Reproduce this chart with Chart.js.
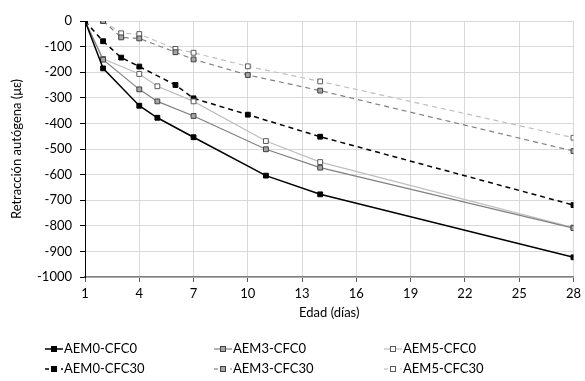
<!DOCTYPE html>
<html>
<head>
<meta charset="utf-8">
<script src="https://cdn.jsdelivr.net/npm/chart.js@4/dist/chart.umd.min.js"></script>
<style>
  html, body { margin: 0; padding: 0; background: #fff; }
  #wrap { width: 585px; height: 381px; }
</style>
</head>
<body>
<div id="wrap"><canvas id="chart" width="585" height="381"></canvas></div>
<script>
// x values (días) and retraction values (με)
const daysCFC0 = [1, 2, 4, 5, 7, 11, 14, 28];
const daysCFC30 = [1, 2, 3, 4, 6, 7, 10, 14, 28];
const daysCFC30b = [2, 3, 4, 6, 7, 10, 14, 28];

const aem0cfc0 = [0, -185, -331, -378, -454, -604, -677, -923];
const aem3cfc0 = [0, -151, -267, -314, -371, -501, -573, -809];
const aem5cfc0 = [0, -148, -207, -255, -314, -469, -551, -807];
const aem0cfc30 = [0, -79, -143, -178, -250, -302, -366, -452, -719];
const aem3cfc30 = [0, -64, -68, -122, -150, -211, -272, -508];
const aem5cfc30 = [0, -48, -51, -109, -124, -177, -236, -456];

const xTicks = [1, 4, 7, 10, 13, 16, 19, 22, 25, 28];
const labels = ['AEM0-CFC0', 'AEM3-CFC0', 'AEM5-CFC0', 'AEM0-CFC30', 'AEM3-CFC30', 'AEM5-CFC30'];

const pts = (xs, ys) => xs.map((x, i) => ({ x: x, y: ys[i] }));

const FONT = 'Lato, "Open Sans", sans-serif';

function series(label, data, color, ptBg, ptBorder, dashed, width) {
  return {
    label: label,
    data: data,
    borderColor: color,
    borderWidth: width,
    borderDash: dashed ? [5, 4] : [],
    pointStyle: 'rect',
    pointRadius: 3.4,
    pointBorderWidth: 1,
    pointBackgroundColor: ptBg,
    pointBorderColor: ptBorder,
    tension: 0,
  };
}

const datasets = [
  series(labels[0], pts(daysCFC0, aem0cfc0), '#000000', '#000000', '#000000', false, 1.5),
  series(labels[1], pts(daysCFC0, aem3cfc0), '#808080', '#a6a6a6', '#404040', false, 1.2),
  series(labels[2], pts(daysCFC0, aem5cfc0), '#bfbfbf', '#ffffff', '#595959', false, 1.2),
  series(labels[3], pts(daysCFC30, aem0cfc30), '#000000', '#000000', '#000000', true, 1.5),
  series(labels[4], pts(daysCFC30b, aem3cfc30), '#808080', '#a6a6a6', '#404040', true, 1.2),
  series(labels[5], pts(daysCFC30b, aem5cfc30), '#bfbfbf', '#ffffff', '#595959', true, 1.2),
];

// legend drawn in 3 columns x 2 rows like the original
const legendPlugin = {
  id: 'gridLegend',
  afterDraw(chart) {
    const ctx = chart.ctx;
    const colX = [45, 214, 384];
    const rowY = [349, 369];
    ctx.save();
    ctx.font = '13px ' + FONT;
    ctx.textBaseline = 'middle';
    ctx.fillStyle = '#000';
    chart.data.datasets.forEach((ds, i) => {
      const x = colX[i % 3];
      const y = rowY[Math.floor(i / 3)];
      ctx.strokeStyle = ds.borderColor;
      ctx.lineWidth = ds.borderWidth;
      ctx.setLineDash(ds.borderDash.length ? [4, 4] : []);
      ctx.beginPath();
      ctx.moveTo(x, y);
      ctx.lineTo(x + 18, y);
      ctx.stroke();
      ctx.setLineDash([]);
      ctx.fillStyle = ds.pointBackgroundColor;
      ctx.fillRect(x + 6.5, y - 2.5, 5, 5);
      ctx.strokeStyle = ds.pointBorderColor;
      ctx.lineWidth = 1;
      ctx.strokeRect(x + 6.5, y - 2.5, 5, 5);
      ctx.fillStyle = '#000';
      ctx.fillText(ds.label, x + 19, y);
    });
    ctx.restore();
  }
};

new Chart(document.getElementById('chart').getContext('2d'), {
  type: 'line',
  data: { datasets: datasets },
  plugins: [legendPlugin],
  options: {
    responsive: false,
    animation: false,
    layout: { padding: { top: 21, right: 8, bottom: 60, left: 9 } },
    plugins: {
      legend: { display: false },
      tooltip: { enabled: false },
    },
    scales: {
      x: {
        type: 'linear',
        min: 1,
        max: 28,
        afterBuildTicks(scale) {
          scale.ticks = xTicks.map(v => ({ value: v }));
        },
        afterFit(scale) { scale.height = 44; },
        grid: { color: '#d9d9d9', tickColor: '#595959', tickLength: 5, lineWidth: 1 },
        border: { color: '#808080', width: 1.5 },
        ticks: { color: '#000', font: { family: FONT, size: 13 }, padding: 4, maxRotation: 0 },
        title: { display: true, text: 'Edad (días)', color: '#000', font: { family: FONT, size: 13 }, padding: { top: 0, bottom: 0 } },
      },
      y: {
        min: -1000,
        max: 0,
        ticks: { stepSize: 100, color: '#000', font: { family: FONT, size: 13 }, padding: 8, callback: v => String(v) },
        afterFit(scale) { scale.width = 76; },
        grid: { color: '#d9d9d9', tickColor: '#000', tickLength: 5, lineWidth: 1 },
        border: { color: '#000', width: 1 },
        title: { display: true, text: 'Retracción autógena (με)', color: '#000', font: { family: FONT, size: 13 }, padding: { top: 0, bottom: 2 } },
      },
    },
  },
});
</script>
</body>
</html>
